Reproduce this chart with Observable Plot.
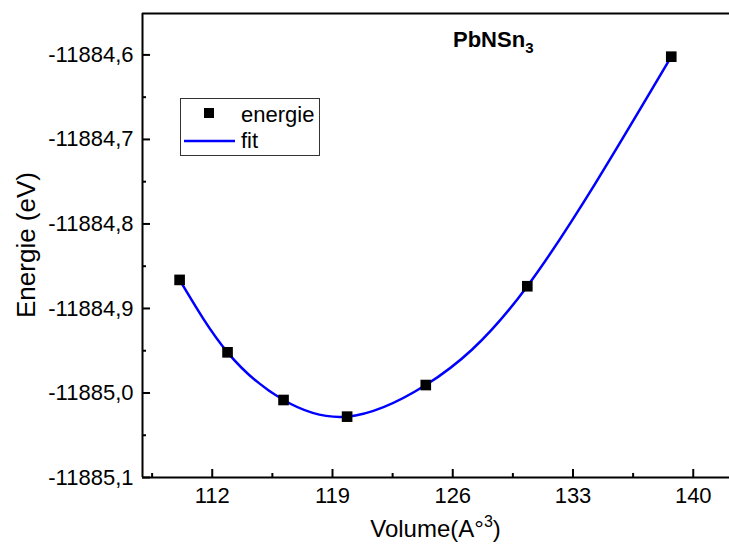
<!DOCTYPE html>
<html><head><meta charset="utf-8">
<script src="https://cdn.jsdelivr.net/npm/d3@7"></script>
<script src="https://cdn.jsdelivr.net/npm/@observablehq/plot@0.6"></script>
<style>body{margin:0;background:#fff} #chart{position:relative;width:729px;height:548px}</style>
</head><body><div id="chart"></div>
<script>
const volume = [110.10, 112.89, 116.15, 119.85, 124.43, 130.34, 138.72];
const energie = [-11884.8662, -11884.9519, -11885.0083, -11885.0280, -11884.9906, -11884.8737, -11884.6021];
const xTicks = [112, 119, 126, 133, 140];
const xMinor = [108.5, 115.5, 122.5, 129.5, 136.5];
const yTicks = [-11885.1, -11885.0, -11884.9, -11884.8, -11884.7, -11884.6];
const yMinor = [-11885.05, -11884.95, -11884.85, -11884.75, -11884.65];
const xDomain = [107.94, 142.11];
const yDomain = [-11885.1, -11884.551];
const titleMain = "PbNSn";
const titleSub = "3";
const legendLabels = ["energie", "fit"];
const xLabel = "Volume(A°";
const xLabelSup = "3";
const yLabel = "Energie (eV)";

const data = volume.map((v, i) => ({v, e: energie[i]}));
const fmt = d => d.toFixed(1).replace(".", ",");
const font = "'Liberation Sans', Arial, sans-serif";

const plot = Plot.plot({
  width: 729, height: 548,
  marginLeft: 142, marginRight: 0, marginTop: 13, marginBottom: 71,
  style: {fontFamily: font, fontSize: "22px", color: "#000", background: "#fff", overflow: "visible"},
  x: {domain: xDomain},
  y: {domain: yDomain},
  marks: [
    Plot.axisX(xTicks, {tickSize: -8, tickPadding: 18, strokeWidth: 2, fontSize: 22, label: null}),
    Plot.axisX(xMinor, {tickSize: -4, tickFormat: () => "", strokeWidth: 2, label: null}),
    Plot.axisY(yTicks, {tickSize: -8, tickPadding: 17, strokeWidth: 2, fontSize: 22, tickFormat: fmt, label: null}),
    Plot.axisY(yMinor, {tickSize: -4, tickFormat: () => "", strokeWidth: 2, label: null}),
    Plot.ruleX([xDomain[0]], {stroke: "#000", strokeWidth: 2}),
    Plot.ruleY(yDomain, {stroke: "#000", strokeWidth: 2}),
    Plot.line(data, {x: "v", y: "e", curve: "natural", stroke: "#0000ff", strokeWidth: 2.5}),
    Plot.dot(data, {x: "v", y: "e", symbol: "square", fill: "#000", stroke: "none", r: 6})
  ]
});
document.getElementById("chart").appendChild(plot);

const svg = d3.select(plot);
// axis titles
const xt = svg.append("text").attr("x", 435.5).attr("y", 537).attr("text-anchor", "middle")
  .attr("font-family", font).attr("font-size", 24).attr("fill", "#000").text(xLabel);
xt.append("tspan").attr("font-size", 16).attr("dy", -10).text(xLabelSup);
xt.append("tspan").attr("dy", 10).text(")");
svg.append("text").attr("transform", "translate(35,245) rotate(-90)").attr("text-anchor", "middle")
  .attr("font-family", font).attr("font-size", 26).attr("fill", "#000").text(yLabel);
// title
const tt = svg.append("text").attr("x", 453).attr("y", 47).attr("text-anchor", "start").attr("font-family", font)
  .attr("font-weight", "bold").attr("font-size", 22).attr("fill", "#000").text(titleMain);
tt.append("tspan").attr("font-size", 15).attr("dy", 6).text(titleSub);
// legend
const lg = svg.append("g").attr("font-family", font).attr("font-size", 22).attr("fill", "#000").attr("text-anchor", "start");
lg.append("rect").attr("x", 180.5).attr("y", 98.5).attr("width", 139).attr("height", 57)
  .attr("fill", "#fff").attr("stroke", "#333").attr("stroke-width", 1);
lg.append("rect").attr("x", 204).attr("y", 108).attr("width", 10).attr("height", 10).attr("fill", "#000");
lg.append("text").attr("x", 241).attr("y", 122).text(legendLabels[0]);
lg.append("line").attr("x1", 184).attr("x2", 235).attr("y1", 141).attr("y2", 141)
  .attr("stroke", "#0000ff").attr("stroke-width", 2.5);
lg.append("text").attr("x", 241).attr("y", 148).text(legendLabels[1]);
</script>
</body></html>
